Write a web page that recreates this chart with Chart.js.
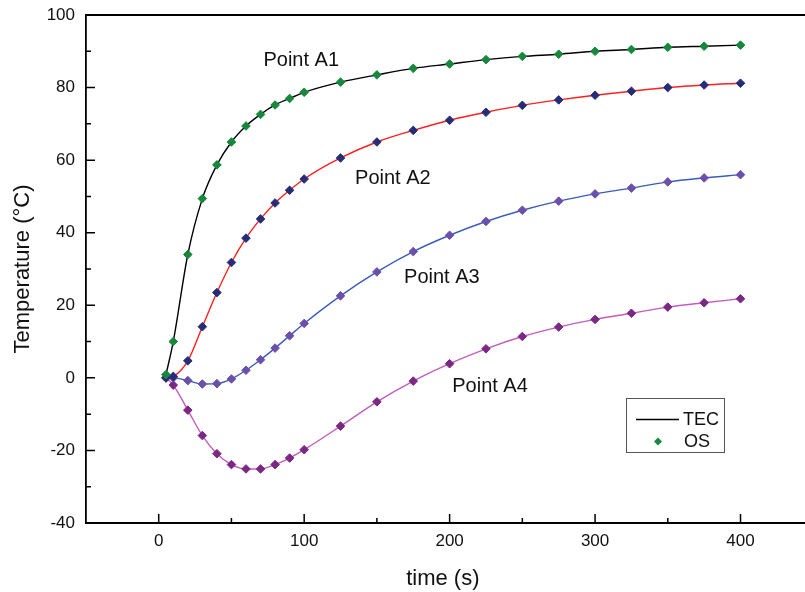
<!DOCTYPE html>
<html>
<head>
<meta charset="utf-8">
<script src="https://cdn.jsdelivr.net/npm/chart.js@4.4.0/dist/chart.umd.min.js"></script>
<style>
  html, body { margin: 0; padding: 0; background: #fff; }
  #wrap { width: 805px; height: 592px; }
</style>
</head>
<body>
<div id="wrap"><canvas id="tempChart" width="805" height="592"></canvas></div>
<script>
// time (s) of each OS sample
var timeS = [5, 10, 20, 30, 40, 50, 60, 70, 80, 90, 100, 125, 150, 175, 200, 225, 250, 275, 300, 325, 350, 375, 400];

// temperatures (°C)
var pointA1 = [0.9, 10, 34, 49.4, 58.7, 65, 69.4, 72.6, 75.2, 77, 78.7, 81.5, 83.5, 85.3, 86.5, 87.7, 88.6, 89.2, 90, 90.5, 91.1, 91.4, 91.7];
var pointA2 = [0, 0.4, 4.7, 14.1, 23.5, 31.8, 38.5, 43.8, 48.2, 51.7, 54.8, 60.6, 65, 68.2, 71, 73.2, 75.1, 76.6, 77.9, 79, 80, 80.7, 81.2];
var pointA3 = [0, 0, -0.75, -1.7, -1.6, -0.3, 2.1, 5, 8.2, 11.6, 15, 22.6, 29.2, 34.8, 39.3, 43.1, 46.2, 48.7, 50.7, 52.3, 54, 55.1, 56];
var pointA4 = [0, -2, -8.9, -15.9, -20.9, -23.9, -25.1, -25.1, -23.9, -22.1, -19.8, -13.3, -6.6, -0.9, 3.9, 8, 11.4, 14, 16.1, 17.8, 19.5, 20.7, 21.8];

var seriesNames = ['Point A1', 'Point A2', 'Point A3', 'Point A4'];
var xTicks = [0, 100, 200, 300, 400];
var xMinor = [50, 150, 250, 350];
var yTicks = [-40, -20, 0, 20, 40, 60, 80, 100];
var yMinor = [-30, -10, 10, 30, 50, 70, 90];

var lineColors = ['#000000', '#ff2020', '#3a5cbc', '#c45cbe'];
var markColors = ['#16873c', '#252c78', '#6a50aa', '#7a2883'];

// where the series names sit, in data units
var nameSpots = [[72, 87.6], [135, 55], [168.7, 27.6], [201.8, -2.5]];

var toPts = function (ys) {
    return timeS.map(function (t, i) { return { x: t, y: ys[i] }; });
};

var allSeries = [pointA1, pointA2, pointA3, pointA4];
var datasets = [];
allSeries.forEach(function (ys, i) {
    // TEC: solid line
    datasets.push({
        label: 'TEC ' + seriesNames[i],
        data: toPts(ys),
        showLine: true,
        borderColor: lineColors[i],
        borderWidth: 1.4,
        pointRadius: 0,
        cubicInterpolationMode: 'monotone',
        order: 2
    });
    // OS: diamonds
    datasets.push({
        label: 'OS ' + seriesNames[i],
        data: toPts(ys),
        showLine: false,
        pointStyle: 'rectRot',
        pointRadius: 4.3,
        pointBackgroundColor: markColors[i],
        pointBorderColor: markColors[i],
        pointBorderWidth: 1,
        order: 1
    });
});

var FONT = '"Liberation Sans", Arial, sans-serif';

var decorations = {
    id: 'decorations',
    afterDraw: function (chart) {
        var ctx = chart.ctx;
        var area = chart.chartArea;
        var xs = chart.scales.x, ys = chart.scales.y;
        ctx.save();
        ctx.strokeStyle = '#000';
        ctx.lineWidth = 1.8;
        // top frame line
        ctx.beginPath();
        ctx.moveTo(area.left, area.top);
        ctx.lineTo(chart.width, area.top);
        ctx.stroke();

        // inward tick marks
        ctx.lineWidth = 1.5;
        ctx.beginPath();
        xTicks.forEach(function (v) {
            var p = xs.getPixelForValue(v);
            ctx.moveTo(p, area.bottom); ctx.lineTo(p, area.bottom - 9);
        });
        xMinor.forEach(function (v) {
            var p = xs.getPixelForValue(v);
            ctx.moveTo(p, area.bottom); ctx.lineTo(p, area.bottom - 5);
        });
        yTicks.forEach(function (v) {
            var p = ys.getPixelForValue(v);
            ctx.moveTo(area.left, p); ctx.lineTo(area.left + 9, p);
        });
        yMinor.forEach(function (v) {
            var p = ys.getPixelForValue(v);
            ctx.moveTo(area.left, p); ctx.lineTo(area.left + 5, p);
        });
        ctx.stroke();

        // bottom axis line runs to the edge of the picture
        ctx.lineWidth = 1.8;
        ctx.beginPath();
        ctx.moveTo(area.left, area.bottom);
        ctx.lineTo(chart.width, area.bottom);
        ctx.stroke();

        // series names
        ctx.fillStyle = '#111';
        ctx.font = '20px ' + FONT;
        ctx.textBaseline = 'middle';
        ctx.textAlign = 'left';
        nameSpots.forEach(function (s, i) {
            ctx.fillText(seriesNames[i], xs.getPixelForValue(s[0]), ys.getPixelForValue(s[1]));
        });

        // legend box
        ctx.strokeStyle = '#555';
        ctx.lineWidth = 1;
        ctx.strokeRect(626.5, 398.5, 98, 54);
        ctx.strokeStyle = '#000';
        ctx.lineWidth = 1.5;
        ctx.beginPath();
        ctx.moveTo(636, 419.5); ctx.lineTo(679, 419.5);
        ctx.stroke();
        ctx.fillStyle = markColors[0];
        ctx.beginPath();
        ctx.moveTo(658, 437.5); ctx.lineTo(662, 441.5); ctx.lineTo(658, 445.5); ctx.lineTo(654, 441.5);
        ctx.closePath();
        ctx.fill();
        ctx.fillStyle = '#111';
        ctx.font = '18px ' + FONT;
        ctx.fillText('TEC', 683, 420);
        ctx.fillText('OS', 684, 442);
        ctx.restore();
    }
};

var ctx = document.getElementById('tempChart').getContext('2d');
var myChart = new Chart(ctx, {
    type: 'scatter',
    data: { datasets: datasets },
    options: {
        responsive: false,
        animation: false,
        layout: { padding: { left: 0, right: 0, top: 15, bottom: 0 } },
        plugins: {
            legend: { display: false },
            tooltip: { enabled: false }
        },
        scales: {
            x: {
                type: 'linear',
                min: -50,
                max: 440.7,
                afterBuildTicks: function (s) {
                    s.ticks = xTicks.map(function (v) { return { value: v }; });
                },
                afterFit: function (s) {
                    s.height = 69;
                    s.paddingLeft = 0;
                    s.paddingRight = 0;
                },
                grid: { display: false, drawTicks: false },
                border: { display: true, color: '#000', width: 1.8 },
                ticks: {
                    color: '#111',
                    font: { family: FONT, size: 17 },
                    padding: 8,
                    maxRotation: 0
                },
                title: {
                    display: true,
                    text: 'time (s)',
                    color: '#111',
                    font: { family: FONT, size: 22 },
                    padding: { top: 0, bottom: 0 }
                }
            },
            y: {
                type: 'linear',
                min: -40,
                max: 100,
                afterBuildTicks: function (s) {
                    s.ticks = yTicks.map(function (v) { return { value: v }; });
                },
                afterFit: function (s) {
                    s.width = 86;
                    s.paddingTop = 0;
                    s.paddingBottom = 0;
                },
                grid: { display: false, drawTicks: false },
                border: { display: true, color: '#000', width: 1.8 },
                ticks: {
                    color: '#111',
                    font: { family: FONT, size: 17 },
                    padding: 11
                },
                title: {
                    display: true,
                    text: 'Temperature (°C)',
                    color: '#111',
                    font: { family: FONT, size: 22 },
                    padding: { top: 10, bottom: 0 }
                }
            }
        }
    },
    plugins: [decorations]
});
</script>
</body>
</html>
